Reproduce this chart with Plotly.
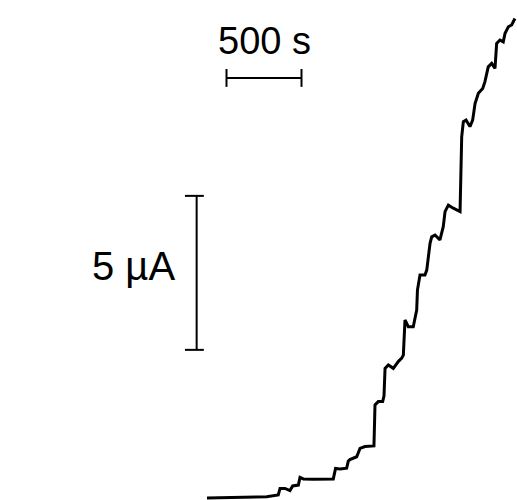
import plotly.graph_objects as go

# Amperometric trace: time (s) and current (µA)
time_s = [0, 220, 398, 475, 487, 520, 553, 571, 609, 620, 642, 709, 842, 857, 887, 931,
          942, 953, 987, 998, 1020, 1053, 1113, 1120, 1142, 1171, 1180, 1187, 1209, 1242,
          1275, 1298, 1309, 1320, 1342, 1375, 1398, 1403, 1420, 1453, 1465, 1487, 1498,
          1520, 1553, 1575, 1587, 1609, 1642, 1687, 1698, 1709, 1727, 1753, 1771, 1787,
          1809, 1838, 1853, 1875, 1898, 1920, 1931, 1953, 1975, 1987, 2009, 2031, 2053]
current_uA = [0.00, 0.02, 0.04, 0.10, 0.31, 0.31, 0.24, 0.39, 0.42, 0.67, 0.62, 0.61, 0.62,
              0.96, 0.94, 0.97, 1.20, 1.25, 1.30, 1.34, 1.61, 1.67, 1.69, 3.02, 3.13, 3.13,
              3.31, 4.21, 4.32, 4.21, 4.43, 4.54, 4.64, 5.78, 5.56, 5.56, 6.10, 6.75, 7.24,
              7.24, 7.40, 8.27, 8.48, 8.54, 8.38, 8.81, 9.30, 9.51, 9.41, 9.30, 11.73, 12.22,
              12.27, 12.06, 12.27, 12.81, 13.14, 13.30, 13.52, 14.00, 14.11, 13.95, 14.76,
              14.87, 14.81, 15.09, 15.30, 15.36, 15.57]

# Scale bars
time_bar_s = [130, 630]
time_bar_level_uA = 13.64
time_bar_label = "500 s"
current_bar_uA = [4.81, 9.81]
current_bar_pos_s = -69
current_bar_label = "5 µA"

fig = go.Figure()
fig.add_trace(go.Scatter(x=time_s, y=current_uA, mode="lines",
                         line=dict(color="black", width=3), showlegend=False,
                         hoverinfo="skip"))

bar_col = "black"
bw = 2
# horizontal time bar
fig.add_shape(type="line", x0=time_bar_s[0], x1=time_bar_s[1], y0=time_bar_level_uA,
              y1=time_bar_level_uA, line=dict(color=bar_col, width=bw))
for xe in time_bar_s:
    fig.add_shape(type="line", x0=xe, x1=xe, y0=time_bar_level_uA - 0.29,
                  y1=time_bar_level_uA + 0.29, line=dict(color=bar_col, width=bw))
# vertical current bar
fig.add_shape(type="line", x0=current_bar_pos_s, x1=current_bar_pos_s,
              y0=current_bar_uA[0], y1=current_bar_uA[1], line=dict(color=bar_col, width=bw))
for ye in current_bar_uA:
    fig.add_shape(type="line", x0=current_bar_pos_s - 78, x1=current_bar_pos_s + 48,
                  y0=ye, y1=ye, line=dict(color=bar_col, width=bw))

fig.add_annotation(x=sum(time_bar_s) / 2, y=14.84, text=time_bar_label, showarrow=False,
                   font=dict(family="Liberation Sans, Arial, sans-serif", size=38, color="black"),
                   xanchor="center", yanchor="middle")
fig.add_annotation(x=-487, y=7.53, text=current_bar_label, showarrow=False,
                   font=dict(family="Liberation Sans, Arial, sans-serif", size=40, color="black"),
                   xanchor="center", yanchor="middle")

fig.update_layout(
    width=517, height=500,
    margin=dict(l=0, r=0, t=0, b=0),
    paper_bgcolor="white", plot_bgcolor="white",
    hovermode=False,
    xaxis=dict(range=[-1380, 2066.7], visible=False, fixedrange=True),
    yaxis=dict(range=[-0.065, 16.17], visible=False, fixedrange=True),
)

fig.write_html("out.html",
               config={"displayModeBar": False, "staticPlot": True},
               post_script="document.body.style.margin='0';document.body.style.overflow='hidden';")
